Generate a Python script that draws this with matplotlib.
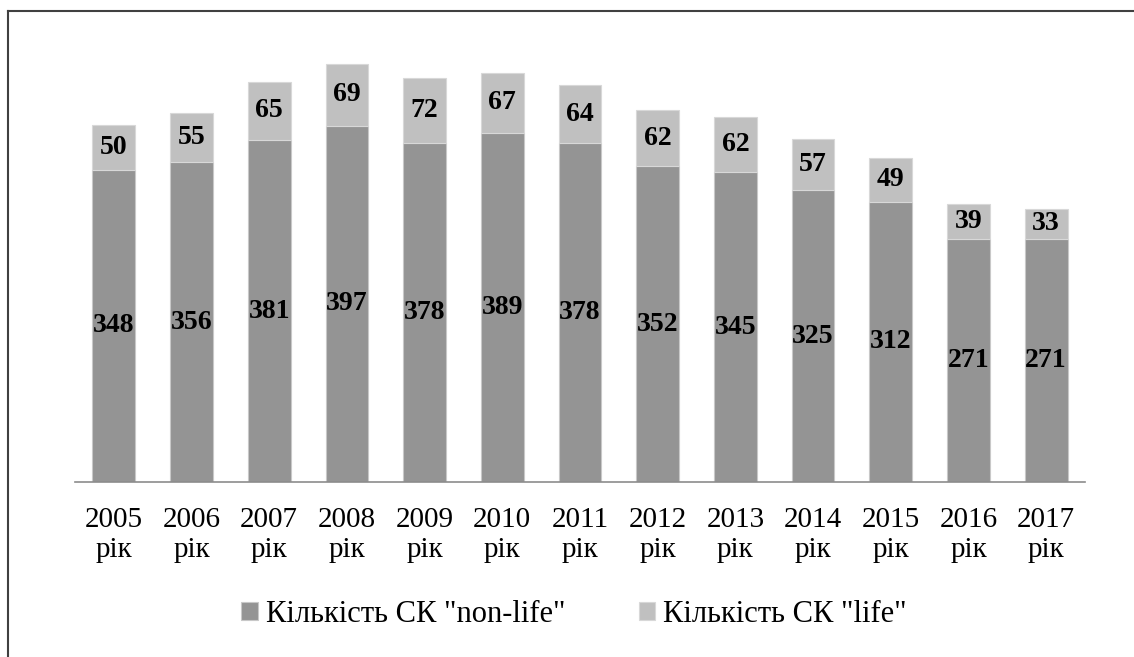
import matplotlib
matplotlib.use('Agg')
import matplotlib.pyplot as plt
import numpy as np
from matplotlib.lines import Line2D

years = ['2005', '2006', '2007', '2008', '2009', '2010', '2011', '2012', '2013', '2014', '2015', '2016', '2017']
non_life = [348, 356, 381, 397, 378, 389, 378, 352, 345, 325, 312, 271, 271]
life = [50, 55, 65, 69, 72, 67, 64, 62, 62, 57, 49, 39, 33]
labels = [y + '\nрік' for y in years]

plt.rcParams['font.family'] = ['Liberation Serif', 'DejaVu Serif']

fig = plt.figure(figsize=(11.34, 6.57), dpi=100)
ax = fig.add_axes([0.0661, 0.2664, 0.8907, 0.683])

x = np.arange(len(years))
w = 0.55
ax.bar(x, non_life, w, color='#949494', edgecolor='#c8c8c8', linewidth=0.8,
       label='Кількість СК "non-life"')
ax.bar(x, life, w, bottom=non_life, color='#c0c0c0', edgecolor='#d8d8d8', linewidth=0.8,
       label='Кількість СК "life"')

for i in range(len(x)):
    ax.text(x[i], non_life[i] / 2, str(non_life[i]), ha='center', va='center',
            fontsize=20, fontweight='bold', color='black')
    ax.text(x[i], non_life[i] + life[i] / 2, str(life[i]), ha='center', va='center',
            fontsize=20, fontweight='bold', color='black')

ax.set_xlim(-0.5, len(x) - 0.5)
ax.set_ylim(0, 500)
ax.set_xticks(x)
ax.set_xticklabels(labels, fontsize=21, linespacing=1.22)
ax.tick_params(axis='x', length=0, pad=18)
ax.set_yticks([])
for s in ['top', 'right', 'left']:
    ax.spines[s].set_visible(False)
ax.spines['bottom'].set_color('#8c8c8c')
ax.spines['bottom'].set_linewidth(1.2)

ax.legend(loc='center', bbox_to_anchor=(0.494, -0.295), ncol=2, frameon=False,
          fontsize=22, handlelength=0.55, handleheight=0.55, handletextpad=0.25,
          columnspacing=2.4)

# outer frame (left and top)
fig.add_artist(Line2D([8 / 1134, 8 / 1134], [0, 1 - 10.5 / 657], color='#404040', lw=1.5,
                      transform=fig.transFigure))
fig.add_artist(Line2D([8 / 1134, 1], [1 - 10.5 / 657, 1 - 10.5 / 657], color='#404040', lw=1.5,
                      transform=fig.transFigure))

fig.savefig('out.png', dpi=100)
